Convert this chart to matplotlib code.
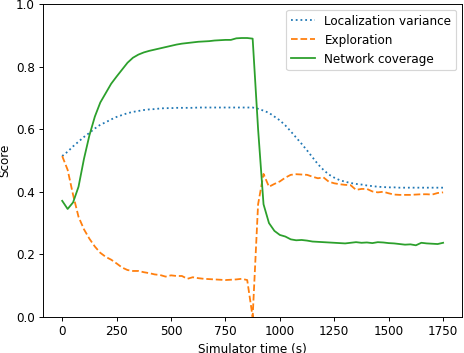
import numpy as np
import matplotlib
matplotlib.use("Agg")
import matplotlib.pyplot as plt

# sample times (s)
t = np.arange(0, 1751, 25)

localization = [0.514, 0.528, 0.545, 0.560, 0.575, 0.588, 0.602, 0.614, 0.622, 0.631,
                0.639, 0.645, 0.651, 0.655, 0.658, 0.661, 0.663, 0.664, 0.666, 0.667,
                0.667, 0.668, 0.668, 0.668, 0.668, 0.669, 0.669, 0.669, 0.669, 0.669,
                0.669, 0.669, 0.669, 0.669, 0.669, 0.669, 0.665, 0.659, 0.652, 0.640,
                0.628, 0.612, 0.593, 0.573, 0.553, 0.532, 0.510, 0.488, 0.470, 0.455,
                0.445, 0.437, 0.432, 0.428, 0.425, 0.423, 0.420, 0.418, 0.416, 0.415,
                0.414, 0.414, 0.413, 0.413, 0.413, 0.413, 0.413, 0.413, 0.413, 0.413,
                0.413]

exploration = [0.514, 0.470, 0.390, 0.320, 0.280, 0.250, 0.225, 0.205, 0.192, 0.183,
               0.171, 0.158, 0.150, 0.147, 0.147, 0.143, 0.140, 0.136, 0.134, 0.129,
               0.133, 0.131, 0.131, 0.122, 0.127, 0.124, 0.122, 0.121, 0.120, 0.119,
               0.118, 0.119, 0.120, 0.122, 0.118, 0.000, 0.360, 0.457, 0.416, 0.425,
               0.433, 0.445, 0.454, 0.456, 0.455, 0.454, 0.448, 0.443, 0.446, 0.432,
               0.427, 0.424, 0.422, 0.421, 0.406, 0.409, 0.409, 0.401, 0.398, 0.400,
               0.395, 0.391, 0.390, 0.390, 0.390, 0.391, 0.392, 0.392, 0.391, 0.396,
               0.398]

coverage = [0.371, 0.345, 0.366, 0.416, 0.505, 0.580, 0.640, 0.685, 0.715, 0.745,
            0.768, 0.790, 0.812, 0.828, 0.838, 0.845, 0.850, 0.854, 0.858, 0.862,
            0.866, 0.870, 0.873, 0.875, 0.877, 0.879, 0.880, 0.881, 0.883, 0.884,
            0.885, 0.885, 0.890, 0.891, 0.891, 0.889, 0.600, 0.360, 0.300, 0.275,
            0.262, 0.257, 0.248, 0.245, 0.246, 0.244, 0.241, 0.240, 0.239, 0.238,
            0.237, 0.236, 0.235, 0.237, 0.239, 0.237, 0.238, 0.236, 0.239, 0.238,
            0.236, 0.235, 0.233, 0.231, 0.232, 0.229, 0.237, 0.235, 0.234, 0.233,
            0.237]

# render at a lower dpi so text and lines come out at the reference's scale
dpi = 86
fig, ax = plt.subplots(figsize=(464 / dpi, 353 / dpi), dpi=dpi)
fig.subplots_adjust(left=0.093, right=0.996, bottom=0.102, top=0.989)

ax.plot(t, localization, ':', label="Localization variance")
ax.plot(t, exploration, '--', label="Exploration")
ax.plot(t, coverage, '-', label="Network coverage")

ax.set_ylim(0, 1.0)
ax.set_xlabel("Simulator time (s)")
ax.set_ylabel("Score")
ax.legend(loc="upper right")

fig.savefig("out.png", dpi=dpi)
